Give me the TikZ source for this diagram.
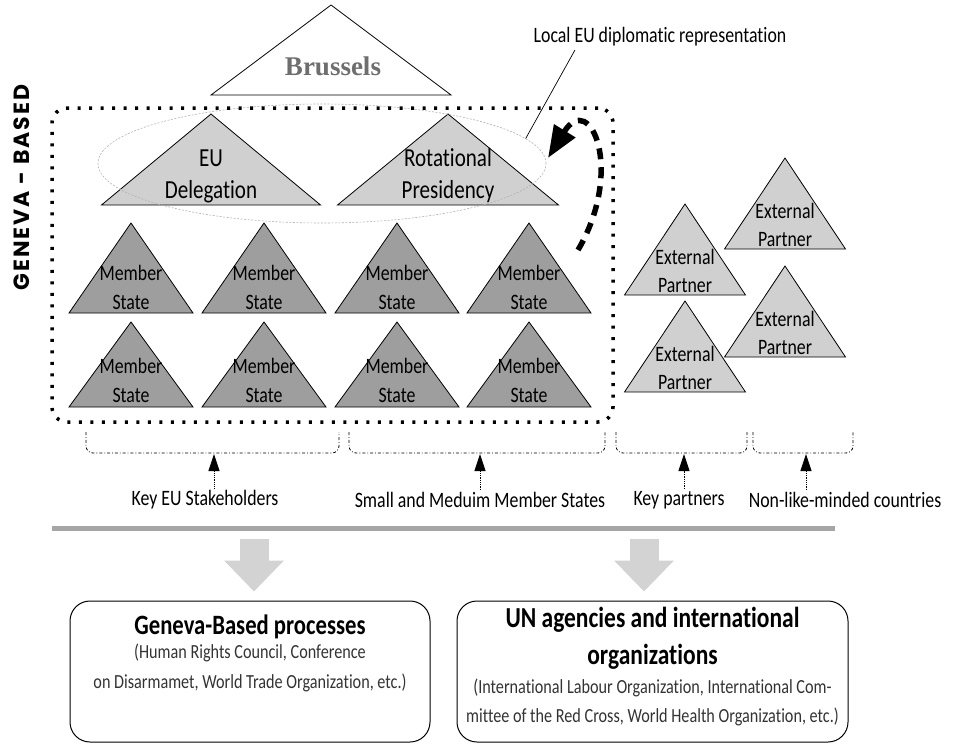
\documentclass[tikz,border=0pt]{standalone}
\usepackage{fontspec}
\setmainfont{Carlito}[FakeStretch=0.81, Ligatures=NoCommon]
\newfontfamily\brusfont{Liberation Serif}
\newfontfamily\genfont{Poppins}[LetterSpace=9]
\usetikzlibrary{shapes.geometric, arrows.meta, positioning, calc}

\definecolor{darktri}{HTML}{9E9E9E}
\definecolor{lighttri}{HTML}{D0D0D0}
\definecolor{bargray}{HTML}{A6A6A6}
\definecolor{arrowgray}{HTML}{D3D3D3}
\definecolor{brusgray}{HTML}{6E6E6E}
\definecolor{subgray}{HTML}{333333}

\tikzset{
  pics/tri/.style 2 args={code={\draw[line width=0.8pt, pic actions] (-#1/2,0) -- (#1/2,0) -- (0,-#2) -- cycle;}},
  trilabel/.style={align=center, inner sep=0pt, font=\fontsize{22}{29}\selectfont},
  biglabel/.style={align=center, inner sep=0pt, font=\fontsize{26}{32}\selectfont},
  bracket/.style={line width=0.8pt, dash dot, rounded corners=7pt},
  uparrow/.style={line width=0.8pt, densely dotted, -{Triangle[length=17pt,width=11pt]}},
  stakelabel/.style={inner sep=2pt, font=\fontsize{22}{26}\selectfont}
}

\begin{document}
\begin{tikzpicture}[
    x=1pt, y=-1pt,
    frame/.style={rectangle, draw=black, line width=3.5pt, dash pattern=on 3pt off 8.5pt, rounded corners=15pt, inner sep=0pt},
    outbox/.style={rectangle, draw=black, line width=1pt, rounded corners=20pt, inner sep=0pt},
    bigarrow/.style={draw=arrowgray, line width=29pt, -{Triangle[length=31pt,width=58pt]}},
    swing/.style={line width=5.5pt, dash pattern=on 11pt off 8pt, -{Triangle[length=32pt,width=24pt]}}
]
\useasboundingbox (0,0) rectangle (954,744);

% Brussels
\pic[fill=white] at (331,95) {tri={240}{90}};
\node (brussels) [font=\brusfont\bfseries\fontsize{27}{30}\selectfont, text=brusgray] at (333,66) {Brussels};

% local representation
\pic[fill=lighttri] at (211,205) {tri={219}{91}};
\pic[fill=lighttri] at (448,205) {tri={221}{91}};
\node (eudel) [biglabel] at (211,176) {EU\\Delegation};
\node (presid) [biglabel] at (448,176) {Rotational\\Presidency};

% member states
\foreach \x [count=\i] in {131,264,397,529} {
  \pic[fill=darktri] at (\x,313) {tri={124}{90}};
  \pic[fill=darktri] at (\x,407) {tri={124}{85}};
  \node (msa\i) [trilabel] at (\x,287.5) {Member\\State};
  \node (msb\i) [trilabel] at (\x,380.5) {Member\\State};
}

% external partners
\foreach \x/\y [count=\i] in {685/295, 785/249, 685/392, 785/357} {
  \pic[fill=lighttri] at (\x,\y) {tri={121}{91}};
  \node (ext\i) [trilabel, font=\fontsize{22}{28}\selectfont] at (\x,\y-24) {External\\Partner};
}

\node (localrep) [ellipse, draw=gray!60, line width=0.6pt, dash pattern=on 2pt off 1.5pt, minimum width=448pt, minimum height=119pt, inner sep=0pt] at (322,163.5) {};
\node (localtxt) [font=\fontsize{22}{26}\selectfont] at (660,37) {Local EU diplomatic representation};
\draw[line width=0.7pt] ([xshift=-85pt]localtxt.south) -- (localrep.7.5);

% Geneva frame
\node (genevabox) [frame, minimum width=561pt, minimum height=314pt] at (332.5,265) {};
\node (genevalbl) [rotate=90, font=\genfont\bfseries\fontsize{22}{26}\selectfont] at (21.5,187.5) {GENEVA - BASED};

\coordinate (swingstart) at (578,250);
\coordinate (swingend) at (548,158);
\draw[swing] (swingstart) .. controls (625,170) and (590,90) .. (swingend);

% groups
\foreach \l/\r/\t [count=\i] in {86/339/214, 349/605/480, 616/747/684, 753/853/806} {
  \draw[bracket] (\l,432) -- (\l,453) -- (\r,453) -- (\r,432);
  \coordinate (tip\i) at (\t,454);
}
\node (keyeu) [stakelabel] at (205,500) {Key EU Stakeholders};
\node (smallms) [stakelabel] at (480,500) {Small and Meduim Member States};
\node (keypart) [stakelabel] at (679,500) {Key partners};
\node (nonlike) [stakelabel] at (845,500) {Non-like-minded countries};
\draw[uparrow] (tip1 |- keyeu.north) -- (tip1);
\draw[uparrow] (tip2 |- smallms.north) -- (tip2);
\draw[uparrow] (tip3 |- keypart.north) -- (tip3);
\draw[uparrow] (tip4 |- nonlike.north) -- (tip4);

\node (divider) [fill=bargray, minimum width=783pt, minimum height=5pt, inner sep=0pt] at (443.5,528) {};

% outcomes
\node (procbox) [outbox, minimum width=360pt, minimum height=141pt] at (250,671.5) {};
\node (unbox) [outbox, minimum width=391pt, minimum height=141pt] at (652.5,671.5) {};
\draw[bigarrow, shorten <=8.5pt, shorten >=9pt] ([xshift=4pt]divider.south -| procbox.north) -- ([xshift=4pt]procbox.north);
\draw[bigarrow, shorten <=8.5pt, shorten >=9pt] ([xshift=-8.5pt]divider.south -| unbox.north) -- ([xshift=-8.5pt]unbox.north);

\node (proctitle) [font=\bfseries\fontsize{28}{34}\selectfont] at (250,627) {Geneva-Based processes};
\node (procsub) [align=center, text=subgray, font=\fontsize{20}{30}\selectfont] at (250,668) {(Human Rights Council, Conference\\on Disarmamet, World Trade Organization, etc.)};
\node (untitle) [align=center, font=\bfseries\fontsize{29}{37}\selectfont] at (652.5,638.5) {UN agencies and international\\organizations};
\node (unsub) [align=center, text=subgray, font=\fontsize{20}{29}\selectfont] at (652.5,702.5) {(International Labour Organization, International Com-\\mittee of the Red Cross, World Health Organization, etc.)};

\end{tikzpicture}
\end{document}
